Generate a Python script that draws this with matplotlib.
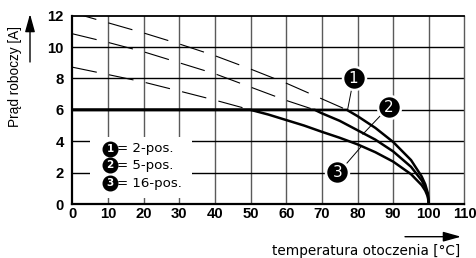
import matplotlib
matplotlib.use("Agg")
import matplotlib.pyplot as plt
from matplotlib.patches import Rectangle

plt.rcParams['font.family'] = ['DejaVu Sans']
plt.rcParams['lines.scale_dashes'] = False

# ---- data ----
x_ticks = [0, 10, 20, 30, 40, 50, 60, 70, 80, 90, 100, 110]
y_ticks = [0, 2, 4, 6, 8, 10, 12]

# solid derating curves
t_c1 = [0, 77, 80, 85, 90, 95, 98, 99, 99.7, 100]
i_c1 = [6, 6, 5.6, 4.85, 3.95, 2.8, 1.75, 1.25, 0.7, 0]
t_c2 = [0, 68, 70, 75, 80, 85, 90, 95, 98, 99, 99.7, 100]
i_c2 = [6, 6, 5.78, 5.3, 4.7, 4.1, 3.35, 2.37, 1.5, 1.06, 0.6, 0]
t_c3 = [0, 50, 55, 60, 65, 70, 75, 80, 85, 90, 95, 98, 99, 99.7, 100]
i_c3 = [6, 6, 5.7, 5.35, 5.0, 4.6, 4.22, 3.8, 3.3, 2.7, 1.9, 1.2, 0.85, 0.47, 0]

# dashed extensions above 6 A
t_d1 = [0, 10, 20, 30, 40, 50, 60, 70, 77]
i_d1 = [12.2, 11.55, 10.9, 10.2, 9.45, 8.6, 7.7, 6.7, 6.0]
t_d2 = [0, 10, 20, 30, 40, 50, 60, 68]
i_d2 = [10.85, 10.3, 9.7, 9.0, 8.3, 7.45, 6.6, 6.0]
t_d3 = [0, 10, 20, 30, 40, 50]
i_d3 = [8.72, 8.25, 7.77, 7.2, 6.62, 6.0]

legend_nums = ["1", "2", "3"]
legend_txt = ["= 2-pos.", "= 5-pos.", "= 16-pos."]

fig = plt.figure(figsize=(4.77, 2.58), dpi=100)
ax = fig.add_axes([72.3 / 477, 1 - 204 / 258, (464.5 - 72.3) / 477, (204 - 15.7) / 258])
ax.set_xlim(0, 110)
ax.set_ylim(0, 12)

# grid
for xv in x_ticks[1:-1]:
    ax.axvline(xv, color='#5a5a5a', lw=1.0, zorder=0.5)
for yv in y_ticks[1:-1]:
    ax.axhline(yv, color='black', lw=1.0, zorder=0.6)

for s in ['left', 'bottom']:
    ax.spines[s].set_linewidth(1.6)
    ax.spines[s].set_color('black')
ax.spines['top'].set_linewidth(1.3)
ax.spines['right'].set_linewidth(1.0)
ax.spines['right'].set_color('#5a5a5a')

tick_font = dict(fontweight='bold', fontsize=10.7, family=['Liberation Sans', 'DejaVu Sans'])
ax.set_xticks(x_ticks)
ax.set_yticks(y_ticks)
ax.set_xticklabels([str(v) for v in x_ticks], **tick_font)
ax.set_yticklabels([str(v) for v in y_ticks], **tick_font)
ax.tick_params(axis='both', length=0)
ax.tick_params(axis='x', pad=2.0)
ax.tick_params(axis='y', pad=6.0)

# white legend box covering the grid
ax.add_patch(Rectangle((5, 0.38), 28.5, 3.87, facecolor='white', edgecolor='none', zorder=1))

# dashed lines
dash = (0, (18, 9))
for t, i in [(t_d1, i_d1), (t_d2, i_d2), (t_d3, i_d3)]:
    ax.plot(t, i, color='black', lw=0.8, linestyle=dash, zorder=2)

# solid curves
for t, i in [(t_c1, i_c1), (t_c2, i_c2), (t_c3, i_c3)]:
    ax.plot(t, i, color='black', lw=1.8, zorder=3, solid_joinstyle='round')

# leader lines
ax.plot([78.4, 77.2], [7.4, 6.0], color='black', lw=0.7, zorder=4)
ax.plot([86.3, 81.5], [5.6, 4.45], color='black', lw=0.7, zorder=4)
ax.plot([77.0, 81.0], [2.6, 3.65], color='black', lw=0.7, zorder=4)

# annotation circles
for (cx, cy), n in zip([(78.9, 8.0), (88.7, 6.18), (74.3, 2.03)], legend_nums):
    ax.plot([cx], [cy], marker='o', markersize=16.5, color='black',
            markeredgecolor='white', markeredgewidth=1.8, zorder=6, clip_on=False)
    ax.text(cx, cy, n, color='white', fontsize=11, ha='center', va='center', zorder=7)

# legend entries
for ly, n, txt in zip([3.53, 2.46, 1.33], legend_nums, legend_txt):
    ax.plot([10.6], [ly], marker='o', markersize=10.5, color='black', zorder=6)
    ax.text(10.6, ly, n, color='white', fontsize=7.5, fontweight='bold', ha='center', va='center', zorder=7)
    ax.text(12.6, ly, txt, color='black', fontsize=9.6, ha='left', va='center', zorder=7)

# axis labels with arrows
fig.text(15 / 477, 1 - 76 / 258, "Prąd roboczy [A]", rotation=90, ha='center', va='center',
         fontsize=9.8, family=['Liberation Sans', 'DejaVu Sans'])
ax.annotate('', xy=(30, 258 - 14), xytext=(30, 258 - 62), xycoords='figure pixels',
            textcoords='figure pixels',
            arrowprops=dict(arrowstyle='-|>,head_length=0.9,head_width=0.25', color='black',
                            lw=1.0, mutation_scale=12, shrinkA=0, shrinkB=0))
fig.text(366.5 / 477, 1 - 251 / 258, "temperatura otoczenia [°C]", ha='center', va='center',
         fontsize=9.8)
ax.annotate('', xy=(461, 258 - 236.7), xytext=(405, 258 - 236.7), xycoords='figure pixels',
            textcoords='figure pixels',
            arrowprops=dict(arrowstyle='-|>,head_length=0.9,head_width=0.25', color='black',
                            lw=1.0, mutation_scale=12, shrinkA=0, shrinkB=0))

fig.savefig("out.png", dpi=100)
